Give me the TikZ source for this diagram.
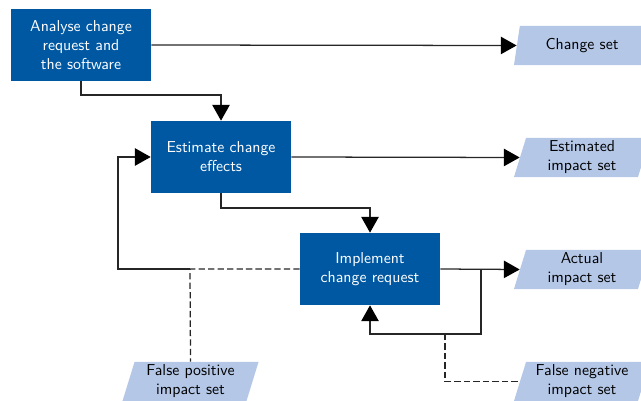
\documentclass[tikz,border=0pt]{standalone}
\usepackage{fontspec}
\usetikzlibrary{shapes.geometric,arrows.meta}
\definecolor{procblue}{HTML}{0058A3}
\definecolor{setblue}{HTML}{B4C7E7}
\begin{document}
\begin{tikzpicture}[x=0.633pt,y=-0.633pt,
  font=\sffamily,
  process/.style={rectangle,fill=procblue,text=white,align=center,
    minimum width=88.6pt,minimum height=45.6pt,inner sep=2pt},
  dataset/.style={trapezium,trapezium left angle=71.6,trapezium right angle=108.4,
    trapezium stretches body,fill=setblue,text=black,align=center,
    minimum width=86.1pt,minimum height=24.7pt,inner sep=1pt},
  conn/.style={draw=black!85,line width=0.8pt},
  flow/.style={conn,-{Triangle[length=10pt,width=11pt,color=black]}},
  miss/.style={conn,dash pattern=on 4pt off 2pt}]
\path[use as bounding box,clip] (0,0) rectangle (641,401);

% processes
\node[process] (analyse) at (81,45) {Analyse change\\request and\\the software};
\node[process] (estimate) at (221,157) {Estimate change\\effects};
\node[process] (implement) at (370,269) {Implement\\change request};

% resulting sets
\node[dataset] (changeset) at (582,45.5) {Change set};
\node[dataset] (estset) at (582,157.5) {Estimated\\impact set};
\node[dataset] (actset) at (582,269.5) {Actual\\impact set};
\node[dataset] (fneg) at (582,381.5) {False negative\\impact set};
\node[dataset] (fpos) at (190.5,381.5) {False positive\\impact set};

% bend points
\coordinate (a1) at (81,95);
\coordinate (b1) at (221,208);
\coordinate (jl) at (190,269);
\coordinate (lc) at (118,269);
\coordinate (jr) at (481,269);
\coordinate (rb) at (481,334);
\coordinate (jb) at (445,334);

% main flow
\draw[flow] (analyse.east) -- (changeset.west);
\draw[flow] (analyse.south) -- (a1) -| (estimate.north);
\draw[flow] (estimate.east) -- (estset.west);
\draw[flow] (estimate.south) -- (b1) -| (implement.north);
\draw[flow] (implement.east) -- (actset.west);

% feedback loops
\draw[flow] (jl) -- (lc) |- (estimate.west);
\draw[flow] (jr) -- (rb) -| (implement.south);

% deviations
\draw[miss] (implement.west) -- (jl) -- (fpos.north);
\draw[miss] (jb) |- (fneg.west);
\end{tikzpicture}
\end{document}
